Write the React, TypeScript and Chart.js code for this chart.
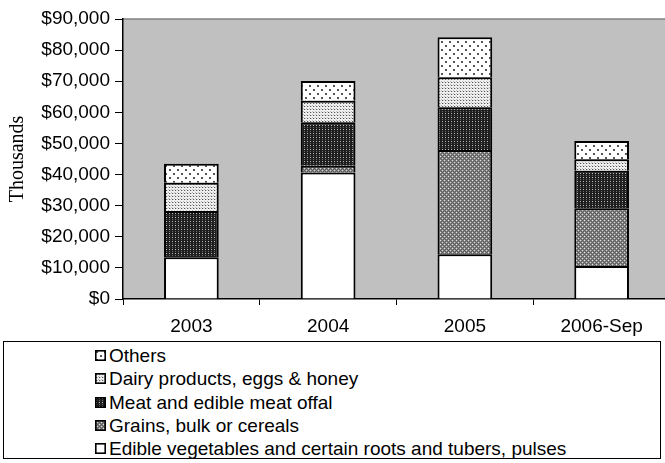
import React, { useEffect, useRef } from "react";
import { Chart, registerables } from "chart.js";

Chart.register(...registerables);

const categories = ["2003", "2004", "2005", "2006-Sep"];
const vegetables = [13400, 40700, 14400, 10600];
const grains = [null, 2100, 33500, 18600];
const meat = [14900, 14000, 13700, 12000];
const dairy = [9100, 6900, 9700, 3700];
const others = [6100, 6400, 12800, 5900];

const seriesNames = [
  "Edible vegetables and certain roots and tubers, pulses",
  "Grains, bulk or cereals",
  "Meat and edible meat offal",
  "Dairy products, eggs & honey",
  "Others",
];
const patternKeys = ["veg", "grains", "meat", "dairy", "others"];

function makeTile(kind: string): HTMLCanvasElement {
  const c = document.createElement("canvas");
  const ctx = c.getContext("2d")!;
  const px = (x: number, y: number, col: string, w = 1, h = 1) => {
    ctx.fillStyle = col;
    ctx.fillRect(x, y, w, h);
  };
  if (kind === "veg") {
    c.width = 4; c.height = 4;
    px(0, 0, "#ffffff", 4, 4);
  } else if (kind === "grains") {
    c.width = 4; c.height = 4;
    px(0, 0, "#8a8a8a", 4, 4);
    for (let y = 0; y < 4; y++)
      for (let x = 0; x < 4; x++)
        if ((x + y) % 2 === 0) px(x, y, "#5a5a5a");
    px(0, 0, "#e0e0e0");
    px(2, 2, "#d0d0d0");
  } else if (kind === "meat") {
    c.width = 3; c.height = 4;
    px(0, 0, "#1e1e1e", 3, 4);
    px(1, 1, "#bdbdbd");
    px(1, 3, "#6a6a6a");
  } else if (kind === "dairy") {
    c.width = 3; c.height = 3;
    px(0, 0, "#f0f0f0", 3, 3);
    px(1, 1, "#555555");
    px(0, 0, "#bbbbbb");
    px(2, 1, "#cccccc");
  } else {
    c.width = 8; c.height = 8;
    px(0, 0, "#ffffff", 8, 8);
    px(1, 1, "#555555", 2, 2);
    px(5, 5, "#555555", 2, 2);
  }
  return c;
}

function makeSwatch(kind: string): string {
  const c = document.createElement("canvas");
  c.width = 11; c.height = 11;
  const ctx = c.getContext("2d")!;
  const p = ctx.createPattern(makeTile(kind), "repeat")!;
  ctx.fillStyle = p;
  ctx.fillRect(0, 0, 11, 11);
  ctx.strokeStyle = "#000";
  ctx.lineWidth = 1.6;
  ctx.strokeRect(0.8, 0.8, 9.4, 9.4);
  return c.toDataURL();
}

const FONT = "'Liberation Sans', Arial, sans-serif";

export default function App() {
  const ref = useRef<HTMLCanvasElement>(null);
  const [swatches, setSwatches] = React.useState<string[]>([]);

  useEffect(() => {
    setSwatches(patternKeys.map((k) => makeSwatch(k)));
    const ctx = ref.current!.getContext("2d")!;
    const pat = (k: string) => ctx.createPattern(makeTile(k), "repeat")!;
    const seriesData = [vegetables, grains, meat, dairy, others];

    const bgPlugin = {
      id: "plotBg",
      beforeDraw(chart: any) {
        const { ctx: c, chartArea: a } = chart;
        c.save();
        c.fillStyle = "#c0c0c0";
        c.fillRect(a.left, a.top, a.right - a.left, a.bottom - a.top);
        c.strokeStyle = "#808080";
        c.lineWidth = 1.5;
        c.beginPath();
        c.moveTo(a.left, a.top);
        c.lineTo(a.right, a.top);
        c.stroke();
        c.restore();
      },
    };

    const chart = new Chart(ctx, {
      type: "bar",
      data: {
        labels: categories,
        datasets: seriesData.map((d, i) => ({
          label: seriesNames[i],
          data: d as any,
          backgroundColor: pat(patternKeys[i]) as any,
          borderColor: "#000000",
          borderWidth: 2,
          categoryPercentage: 1,
          barPercentage: 0.4,
        })),
      },
      options: {
        animation: false,
        responsive: false,
        maintainAspectRatio: false,
        layout: { padding: { top: 19, left: 0, right: 10, bottom: 0 } },
        plugins: {
          legend: { display: false },
          tooltip: { enabled: false },
        },
        scales: {
          x: {
            stacked: true,
            grid: {
              display: true,
              drawOnChartArea: false,
              drawTicks: true,
              tickLength: 6,
              color: "#000",
              offset: true,
            },
            border: { display: true, color: "#000", width: 1.5 },
            ticks: {
              color: "#000",
              font: { family: FONT, size: 19 },
              padding: 10,
              maxRotation: 0,
            },
            afterFit(scale: any) {
              scale.height = 41;
            },
          },
          y: {
            stacked: true,
            min: 0,
            max: 90000,
            grid: {
              display: true,
              drawOnChartArea: false,
              drawTicks: true,
              tickLength: 8,
              color: "#000",
            },
            border: { display: true, color: "#000", width: 1.5 },
            ticks: {
              stepSize: 10000,
              color: "#000",
              font: { family: FONT, size: 19 },
              padding: 5,
              callback: (v: any) => "$" + Number(v).toLocaleString("en-US"),
            },
            title: {
              display: true,
              text: "Thousands",
              color: "#000",
              font: { family: "'Liberation Serif', 'Times New Roman', serif", size: 20 },
              padding: { top: 6, bottom: 0 },
            },
            afterFit(scale: any) {
              scale.width = 123;
            },
          },
        },
      },
      plugins: [bgPlugin],
    });
    return () => chart.destroy();
  }, []);

  const order = [4, 3, 2, 1, 0];

  return (
    <div
      style={{
        position: "fixed",
        left: 0,
        top: 0,
        width: 665,
        height: 463,
        overflow: "hidden",
        background: "#fff",
      }}
    >
      <canvas
        ref={ref}
        width={680}
        height={340}
        style={{ position: "absolute", left: 0, top: 0, width: 680, height: 340 }}
      />
      <div
        style={{
          position: "absolute",
          left: 3,
          top: 341,
          width: 658,
          height: 118,
          border: "1px solid #000",
          boxSizing: "border-box",
          paddingTop: 2,
          paddingLeft: 91,
          fontFamily: FONT,
          fontSize: 19,
          lineHeight: "23.3px",
          color: "#000",
        }}
      >
        {order.map((i) => (
          <div key={i} style={{ display: "flex", alignItems: "center", height: 23.3, whiteSpace: "nowrap" }}>
            {swatches[i] ? (
              <img src={swatches[i]} width={11} height={11} style={{ marginRight: 3 }} />
            ) : (
              <span style={{ width: 11, height: 11, marginRight: 3, display: "inline-block" }} />
            )}
            <span>{seriesNames[i]}</span>
          </div>
        ))}
      </div>
    </div>
  );
}
